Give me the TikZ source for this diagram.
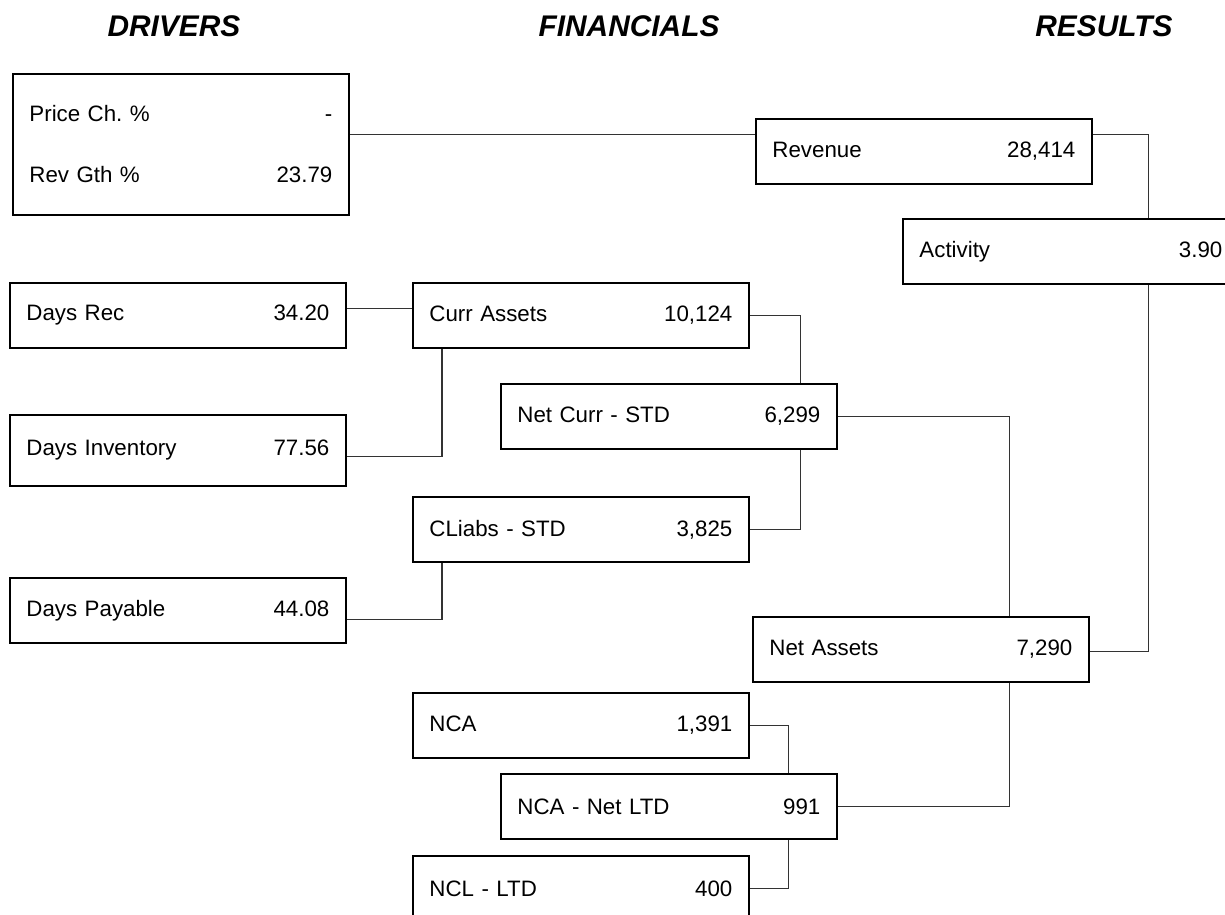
\documentclass[tikz,border=0pt]{standalone}
\usepackage{fontspec}
\setmainfont{Liberation Sans}
\usepackage{tikz}
\usetikzlibrary{positioning}
\frenchspacing

\newcommand{\figrow}[2]{\makebox[\linewidth]{#1\hfill#2}}

\begin{document}
\begin{tikzpicture}[x=0.02cm,y=-0.02cm,
  cell/.style={draw,line width=1.1pt,rectangle,anchor=north west,
    minimum width=6.72cm,minimum height=1.3cm,inner xsep=0.33cm,inner ysep=0pt,
    text width=6.06cm,font=\fontsize{12.7pt}{15pt}\selectfont},
  link/.style={draw=black!80,line width=0.6pt},
  head/.style={font=\fontsize{17pt}{20pt}\selectfont\bfseries\itshape}]

  \clip (0,0) rectangle (1225,915);

  % Column headings
  \node[head] (hdrv) at (174,26) {DRIVERS};
  \node[head] (hfin) at (629,26) {FINANCIALS};
  \node[head] (hres) at (1104,26) {RESULTS};

  % Boxes
  \node[cell,minimum height=2.82cm] (price) at (12,73)
    {\figrow{Price Ch. \%}{-}\\[0.69cm]\figrow{Rev Gth \%}{23.79}};
  \node[cell] (rev) at (755,118) {\figrow{Revenue}{28,414}};
  \node[cell] (act) at (902,218) {\figrow{Activity}{3.90}};
  \node[cell] (drec) at (9,282) {\figrow{Days Rec}{34.20}};
  \node[cell] (ca) at (412,282) {\figrow{Curr Assets}{10,124}};
  \node[cell] (ncs) at (500,383) {\figrow{Net Curr - STD}{6,299}};
  \node[cell,minimum height=1.42cm] (dinv) at (9,414) {\figrow{Days Inventory}{77.56}};
  \node[cell] (cl) at (412,496) {\figrow{CLiabs - STD}{3,825}};
  \node[cell] (dpay) at (9,577) {\figrow{Days Payable}{44.08}};
  \node[cell] (na) at (752,616) {\figrow{Net Assets}{7,290}};
  \node[cell] (nca) at (412,692) {\figrow{NCA}{1,391}};
  \node[cell] (nld) at (500,773) {\figrow{NCA - Net LTD}{991}};
  \node[cell] (ncl) at (412,855) {\figrow{NCL - LTD}{400}};

  % Connectors
  \draw[link] ([yshift=0.33cm]rev.west) -- ([yshift=0.33cm]rev.west -| price.east);
  \draw[link] ([yshift=0.33cm]rev.east) -| ([xshift=1.56cm]act.north);
  \draw[link] ([xshift=1.56cm]act.south) |- ([yshift=-0.05cm]na.east);
  \draw[link] ([yshift=0.14cm]drec.east) -- ([yshift=0.14cm]ca.west);
  \draw[link] ([xshift=0.6cm]ca.south west) |- ([yshift=-0.13cm]dinv.east);
  \draw[link] (ca.east) -| ([xshift=-0.74cm]ncs.north east);
  \draw[link] ([xshift=-0.74cm]ncs.south east) |- (cl.east);
  \draw[link] ([xshift=0.6cm]cl.south west) |- ([yshift=-0.18cm]dpay.east);
  \draw[link] (ncs.east) -| ([xshift=-1.6cm]na.north east);
  \draw[link] ([xshift=-1.6cm]na.south east) |- (nld.east);
  \draw[link] (nca.east) -| ([xshift=-0.98cm]nld.north east);
  \draw[link] ([xshift=-0.98cm]nld.south east) |- (ncl.east);
\end{tikzpicture}
\end{document}
